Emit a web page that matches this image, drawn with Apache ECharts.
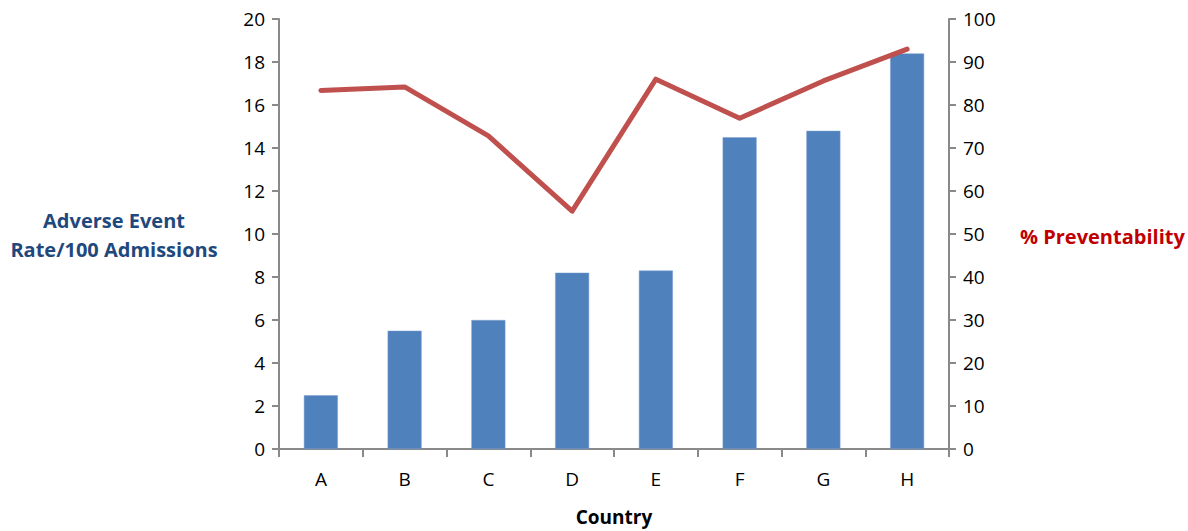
<!DOCTYPE html>
<html>
<head>
<meta charset="utf-8">
<script src="https://cdn.jsdelivr.net/npm/echarts@6/dist/echarts.min.js"></script>
<style>
  html, body { margin: 0; padding: 0; background: #fff; }
  #chart { width: 1188px; height: 531px; }
</style>
</head>
<body>
<div id="chart"></div>
<script>
const countries = ['A', 'B', 'C', 'D', 'E', 'F', 'G', 'H']
const eventRate = [2.5, 5.5, 6.0, 8.2, 8.3, 14.5, 14.8, 18.4]
const preventability = [83.4, 84.2, 72.8, 55.3, 86.0, 76.9, 85.6, 93.0]

const font = '"Open Sans", "Liberation Sans", sans-serif'
const axisGray = '#898989'

const chart = echarts.init(document.getElementById('chart'), null, { renderer: 'svg' })
chart.setOption({
  animation: false,
  textStyle: { fontFamily: font },
  grid: { left: 279, right: 239, top: 19, bottom: 80 },
  xAxis: {
    type: 'category',
    data: countries,
    boundaryGap: true,
    axisLine: { lineStyle: { color: axisGray, width: 2 } },
    axisTick: { show: true, length: 8, lineStyle: { color: axisGray, width: 2 } },
    axisLabel: { color: '#000', fontSize: 19, margin: 20, fontFamily: font },
    name: 'Country',
    nameLocation: 'middle',
    nameGap: 58,
    nameTextStyle: { color: '#000', fontSize: 19, fontWeight: 'bold', fontFamily: font }
  },
  yAxis: [
    {
      type: 'value',
      min: 0,
      max: 20,
      interval: 2,
      position: 'left',
      axisLine: { show: true, lineStyle: { color: axisGray, width: 2 } },
      axisTick: { show: true, length: 7, lineStyle: { color: axisGray, width: 2 } },
      axisLabel: { color: '#000', fontSize: 19, margin: 14, fontFamily: font },
      splitLine: { show: false }
    },
    {
      type: 'value',
      min: 0,
      max: 100,
      interval: 10,
      position: 'right',
      axisLine: { show: true, lineStyle: { color: axisGray, width: 2 } },
      axisTick: { show: true, length: 7, lineStyle: { color: axisGray, width: 2 } },
      axisLabel: { color: '#000', fontSize: 19, margin: 14, fontFamily: font },
      splitLine: { show: false }
    }
  ],
  graphic: [
    {
      type: 'text',
      x: 114,
      y: 235,
      style: {
        text: 'Adverse Event\nRate/100 Admissions',
        align: 'center',
        verticalAlign: 'middle',
        fill: '#1F497D',
        font: 'bold 20px ' + font,
        lineHeight: 29
      }
    },
    {
      type: 'text',
      x: 1020,
      y: 236,
      style: {
        text: '% Preventability',
        verticalAlign: 'middle',
        fill: '#C00000',
        font: 'bold 20px ' + font
      }
    }
  ],
  series: [
    {
      type: 'bar',
      yAxisIndex: 0,
      data: eventRate,
      barWidth: 34,
      itemStyle: { color: '#4F81BD', borderColor: '#7EA2D1', borderWidth: 0.5 }
    },
    {
      type: 'line',
      yAxisIndex: 1,
      data: preventability,
      symbol: 'none',
      lineStyle: { color: '#C0504D', width: 5, cap: 'round', join: 'round' }
    }
  ]
})
</script>
</body>
</html>
